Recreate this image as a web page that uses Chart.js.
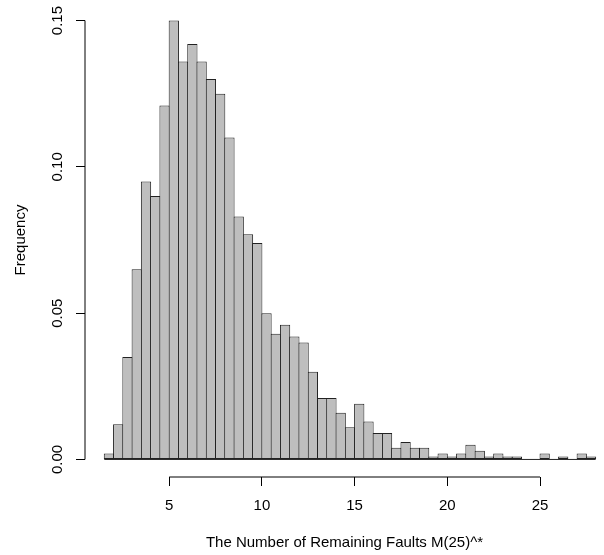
<!DOCTYPE html>
<html>
<head>
<meta charset="utf-8">
<script src="https://cdn.jsdelivr.net/npm/chart.js@4"></script>
<style>
  body { margin: 0; background: #fff; }
  #wrap { width: 604px; height: 555px; }
</style>
</head>
<body>
<div id="wrap"><canvas id="myChart"></canvas></div>
<script>
// histogram bins (centres of 0.5 wide bins) and their relative frequencies
var binCenters = [1.75, 2.25, 2.75, 3.25, 3.75, 4.25, 4.75, 5.25, 5.75, 6.25,
    6.75, 7.25, 7.75, 8.25, 8.75, 9.25, 9.75, 10.25, 10.75, 11.25,
    11.75, 12.25, 12.75, 13.25, 13.75, 14.25, 14.75, 15.25, 15.75, 16.25,
    16.75, 17.25, 17.75, 18.25, 18.75, 19.25, 19.75, 20.25, 20.75, 21.25,
    21.75, 22.25, 22.75, 23.25, 23.75, 24.25, 24.75, 25.25, 25.75, 26.25,
    26.75, 27.25, 27.75];
var frequency = [0.002, 0.012, 0.035, 0.065, 0.095, 0.090, 0.121, 0.150, 0.136, 0.142,
    0.136, 0.130, 0.125, 0.110, 0.083, 0.077, 0.074, 0.050, 0.043, 0.046,
    0.042, 0.040, 0.030, 0.021, 0.021, 0.016, 0.011, 0.019, 0.013, 0.009,
    0.009, 0.004, 0.006, 0.004, 0.004, 0.001, 0.002, 0.001, 0.002, 0.005,
    0.003, 0.001, 0.002, 0.001, 0.001, 0, 0, 0.002, 0, 0.001,
    0, 0.002, 0.001];
var histRange = [1.5, 28];
var xTicks = [5, 10, 15, 20, 25];
var yTicks = [0, 0.05, 0.10, 0.15];

var font = "'Liberation Sans', Arial, Helvetica, sans-serif";
Chart.defaults.font.family = font;
Chart.defaults.font.size = 15;
Chart.defaults.color = "#000";

var barData = binCenters.map(function (x, i) { return {x: x, y: frequency[i]}; });
var baseLine = histRange.map(function (x) { return {x: x, y: 0}; });

// R style axis lines that only run from the first to the last tick
var axisLines = {
    id: "axisLines",
    afterDraw: function (chart) {
        var ctx = chart.ctx;
        var xs = chart.scales.x, ys = chart.scales.y;
        var a = chart.chartArea;
        ctx.save();
        ctx.strokeStyle = "#000";
        ctx.lineWidth = 1;
        ctx.beginPath();
        ctx.moveTo(xs.getPixelForValue(xTicks[0]), a.bottom);
        ctx.lineTo(xs.getPixelForValue(xTicks[xTicks.length - 1]), a.bottom);
        ctx.moveTo(a.left, ys.getPixelForValue(yTicks[0]));
        ctx.lineTo(a.left, ys.getPixelForValue(yTicks[yTicks.length - 1]));
        ctx.stroke();
        ctx.restore();
    }
};

new Chart("myChart", {
    type: "bar",
    data: {
        datasets: [{
            type: "line",
            data: baseLine,
            borderColor: "#222",
            borderWidth: 1,
            pointRadius: 0,
            order: 2
        }, {
            data: barData,
            backgroundColor: "#bebebe",
            borderColor: "#222",
            borderWidth: 1,
            borderSkipped: false,
            barPercentage: 1.108,
            categoryPercentage: 1,
            order: 1
        }]
    },
    options: {
        responsive: true,
        maintainAspectRatio: false,
        animation: false,
        layout: {padding: {top: 3, right: 0, bottom: 0, left: 0}},
        plugins: {
            legend: {display: false},
            tooltip: {enabled: false}
        },
        scales: {
            x: {
                type: "linear",
                min: 0.46,
                max: 28.45,
                offset: false,
                afterBuildTicks: function (s) { s.ticks = xTicks.map(function (v) { return {value: v}; }); },
                afterFit: function (s) { s.height = 78; s.paddingLeft = 0; s.paddingRight = 0; },
                grid: {display: true, drawOnChartArea: false, drawTicks: true, tickLength: 9, color: "#000", offset: false},
                border: {display: false},
                ticks: {padding: 11, autoSkip: false, maxRotation: 0},
                title: {display: true, text: "The Number of Remaining Faults M(25)^*", padding: {top: 0, bottom: 3}}
            },
            y: {
                min: -0.006,
                max: 0.156,
                afterBuildTicks: function (s) { s.ticks = yTicks.map(function (v) { return {value: v}; }); },
                afterFit: function (s) { s.width = 85; s.paddingTop = 0; s.paddingBottom = 0; },
                grid: {display: true, drawOnChartArea: false, drawTicks: true, tickLength: 9, color: "#000"},
                border: {display: false},
                ticks: {
                    padding: 4,
                    autoSkip: false,
                    minRotation: 90,
                    maxRotation: 90,
                    crossAlign: "center",
                    callback: function (v) { return v.toFixed(2); }
                },
                title: {display: true, text: "Frequency", padding: {top: 12, bottom: 0}}
            }
        }
    },
    plugins: [axisLines]
});
</script>
</body>
</html>
